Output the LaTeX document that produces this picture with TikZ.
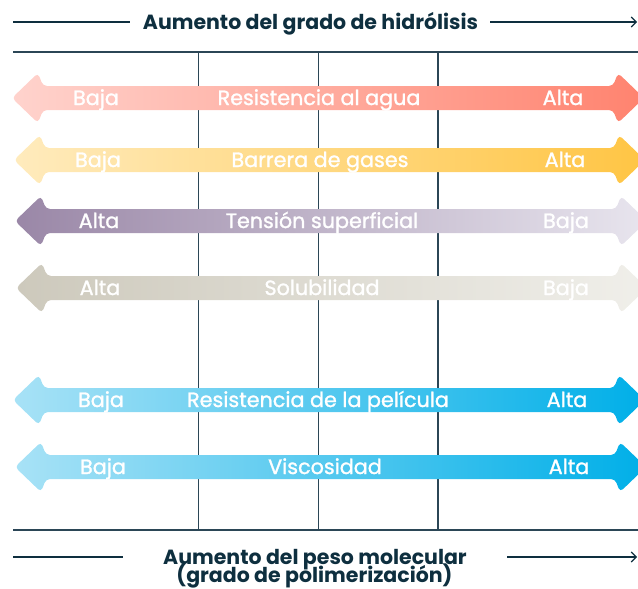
\documentclass[tikz,border=0pt]{standalone}
\usepackage{fontspec}
\setmainfont{Poppins}
\newfontfamily\lblfont{Poppins}[FakeBold=1.3]
\usetikzlibrary{arrows.meta}
\definecolor{navy}{HTML}{0E2F3F}
\definecolor{rule}{HTML}{2B4656}
\definecolor{aL}{HTML}{FFD3CD}\definecolor{aR}{HTML}{FF836F}
\definecolor{bL}{HTML}{FFEBBD}\definecolor{bR}{HTML}{FFC544}
\definecolor{cL}{HTML}{9A87A7}\definecolor{cR}{HTML}{E8E5EE}
\definecolor{dL}{HTML}{CDC9BC}\definecolor{dR}{HTML}{F0EFEA}
\definecolor{eL}{HTML}{A8E2F6}\definecolor{eR}{HTML}{00AFE8}
\newcommand\dblarrow[5]{%
  \shade[left color=#4,right color=#5,rounded corners=4pt]
    (#2,#1) -- (#2+26,#1-25) -- (#2+31,#1-12) -- (#3-31,#1-12) -- (#3-26,#1-25)
    -- (#3,#1) -- (#3-26,#1+25) -- (#3-31,#1+12) -- (#2+31,#1+12) -- (#2+26,#1+25) -- cycle;}
\begin{document}
\begin{tikzpicture}[x=1pt,y=-1pt,
  lbl/.style={anchor=base,text=white,font=\lblfont\fontsize{20.7}{24}\selectfont,inner sep=0pt},
  ttl/.style={anchor=base,text=navy,font=\fontsize{20.5}{24}\selectfont\bfseries,inner sep=0pt},
  rl/.style={draw=rule,line width=1.1pt},
  hl/.style={draw=navy,line width=1.1pt}]
\useasboundingbox (0,0) rectangle (638,589);
\clip (0,0) rectangle (638,589);
% frame lines
\coordinate (tl) at (13,52); \coordinate (tr) at (638,52);
\coordinate (bl) at (13,530); \coordinate (br) at (638,530);
\draw[rl] (tl) -- (tr);
\draw[rl] (bl) -- (br);
\foreach \x/\n in {198.5/v1,318.5/v2,438/v3}{
  \coordinate (\n a) at (\x,52); \coordinate (\n b) at (\x,530);
  \draw[rl] (\n a) -- (\n b);}
% top title
\node[ttl] (title) at (310.5,29) {Aumento del grado de hidrólisis};
\coordinate (t1) at (13,22); \coordinate (t2) at (130,22);
\coordinate (t3) at (490,22); \coordinate (t4) at (637,22);
\draw[hl] (t1) -- (t2);
\draw[hl,-{Straight Barb[length=5pt,width=10pt]}] (t3) -- (t4);
% bottom title
\node[ttl] (sub1) at (315,564) {Aumento del peso molecular};
\node[ttl] (sub2) at (314.5,582.5) {(grado de polimerización)};
\coordinate (b1) at (13,557); \coordinate (b2) at (123,557);
\coordinate (b3) at (507,557); \coordinate (b4) at (637,557);
\draw[hl] (b1) -- (b2);
\draw[hl,-{Straight Barb[length=5pt,width=10pt]}] (b3) -- (b4);
% arrows
\dblarrow{98}{12}{644}{aL}{aR}
\dblarrow{160}{14}{645}{bL}{bR}
\dblarrow{221}{15}{647}{cL}{cR}
\dblarrow{288}{16}{647}{dL}{dR}
\dblarrow{400}{13}{645}{eL}{eR}
\dblarrow{467}{15}{646}{eL}{eR}
% labels
\node[lbl] (r1a) at (96,105) {Baja};
\node[lbl] (r1b) at (319,105) {Resistencia al agua};
\node[lbl] (r1c) at (563,105) {Alta};
\node[lbl] (r2a) at (98,167) {Baja};
\node[lbl] (r2b) at (320,167) {Barrera de gases};
\node[lbl] (r2c) at (565,167) {Alta};
\node[lbl] (r3a) at (99,228) {Alta};
\node[lbl] (r3b) at (322,228) {Tensión superficial};
\node[lbl] (r3c) at (566,228) {Baja};
\node[lbl] (r4a) at (100,295) {Alta};
\node[lbl] (r4b) at (322,295) {Solubilidad};
\node[lbl] (r4c) at (566,295) {Baja};
\node[lbl] (r5a) at (101,407) {Baja};
\node[lbl] (r5b) at (318,407) {Resistencia de la película};
\node[lbl] (r5c) at (567,407) {Alta};
\node[lbl] (r6a) at (103,474) {Baja};
\node[lbl] (r6b) at (325,474) {Viscosidad};
\node[lbl] (r6c) at (569,474) {Alta};
\end{tikzpicture}
\end{document}
